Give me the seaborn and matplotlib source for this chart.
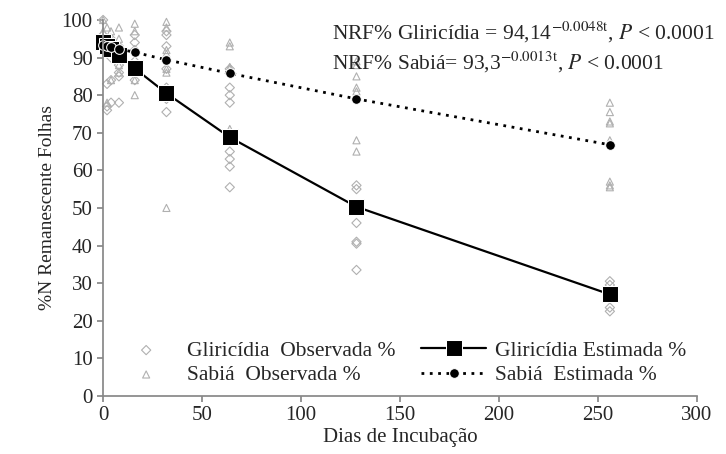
import matplotlib
matplotlib.use("Agg")
import matplotlib.pyplot as plt
import seaborn as sns
import pandas as pd

sns.set_theme(style="ticks")
plt.rcParams['font.family'] = ['Liberation Serif', 'DejaVu Serif']
plt.rcParams['mathtext.fontset'] = 'stix'

days = [0, 2, 4, 8, 16, 32, 64, 128, 256]
glir_est = [94.1, 93.2, 92.3, 90.6, 87.1, 80.5, 68.8, 50.3, 27.0]
sab_est = [93.3, 93.1, 92.8, 92.3, 91.4, 89.4, 85.8, 79.0, 66.8]

glir_obs_x = [0,0,0,2,2,2,4,4,4,4,8,8,8,8,8,16,16,16,16,16,16,32,32,32,32,32,32,32,
              64,64,64,64,64,64,64,64,128,128,128,128,128,128,128,256,256,256,256]
glir_obs_y = [100,96,94,83,77,76,95,90,84,78,93,88,86,85,78,96,94,92,89,86,84,97,96,93,87,82,79,75.5,
              87,82,80,78,65,63,61,55.5,56,55,50,46,41,40.5,33.5,30.5,29.5,23.5,22.5]
sab_obs_x = [0,0,2,2,2,4,4,4,8,8,8,8,16,16,16,16,16,32,32,32,32,32,32,32,
             64,64,64,64,64,64,128,128,128,128,128,128,128,256,256,256,256,256,256,256,256]
sab_obs_y = [100,97,98,92,78,97,95,84,98,95,88,86,99,97,88,84,80,99.5,98,92,91,87,86,50,
             94,93,87.5,87,71,70,89,88,85,82,81,68,65,78,75.5,73,72.5,68,57,56,55.5]

fig, ax = plt.subplots(figsize=(7.26, 4.54), dpi=100)
sns.scatterplot(x=glir_obs_x, y=glir_obs_y, ax=ax, marker='D', s=22, facecolor='none',
                edgecolor='#b0b0b0', linewidth=0.8, label='Gliricídia  Observada %', clip_on=False)
sns.scatterplot(x=sab_obs_x, y=sab_obs_y, ax=ax, marker='^', s=26, facecolor='none',
                edgecolor='#b0b0b0', linewidth=0.8, label='Sabiá  Observada %', clip_on=False)
sns.lineplot(x=days, y=glir_est, ax=ax, color='black', marker='s', markersize=11, lw=1.6,
             label='Gliricídia Estimada %', clip_on=False)
sns.lineplot(x=days, y=sab_est, ax=ax, color='black', marker='o', markersize=7, lw=2,
             linestyle=(0, (1, 2)), label='Sabiá  Estimada %', clip_on=False)

ax.set_xlim(0, 300)
ax.set_ylim(0, 100)
ax.set_xticks(range(0, 301, 50))
ax.set_yticks(range(0, 101, 10))
ax.tick_params(labelsize=15, direction='out', length=4, color='#888888')
for s in ['top', 'right']:
    ax.spines[s].set_visible(False)
for s in ['left', 'bottom']:
    ax.spines[s].set_color('#888888')
ax.set_xlabel('Dias de Incubação', fontsize=15, labelpad=2)
ax.set_ylabel('%N Remanescente Folhas', fontsize=14)
ax.legend(ncol=2, loc='lower left', bbox_to_anchor=(0.0, 0.0), frameon=False, fontsize=15.5,
          handlelength=3, columnspacing=1.2, handletextpad=0.4, borderaxespad=0.1,
          labelspacing=0.2)
ax.text(1.03, 1.0, r'NRF% Gliricídia = 94,14$^{-0.0048\mathrm{t}}$, $P$ < 0.0001',
        transform=ax.transAxes, ha='right', va='top', fontsize=15.5)
ax.text(0.99, 0.92, r'NRF% Sabiá= 93,3$^{-0.0013\mathrm{t}}$, $P$ < 0.0001',
        transform=ax.transAxes, ha='left', va='top', fontsize=15.5)
fig.subplots_adjust(left=0.142, right=0.96, bottom=0.128, top=0.956)
fig.canvas.draw()
bb = ax.texts[0].get_window_extent()
x0 = ax.transAxes.inverted().transform((bb.x0, bb.y0))[0]
ax.texts[1].set_x(x0)
fig.savefig('out.png')
